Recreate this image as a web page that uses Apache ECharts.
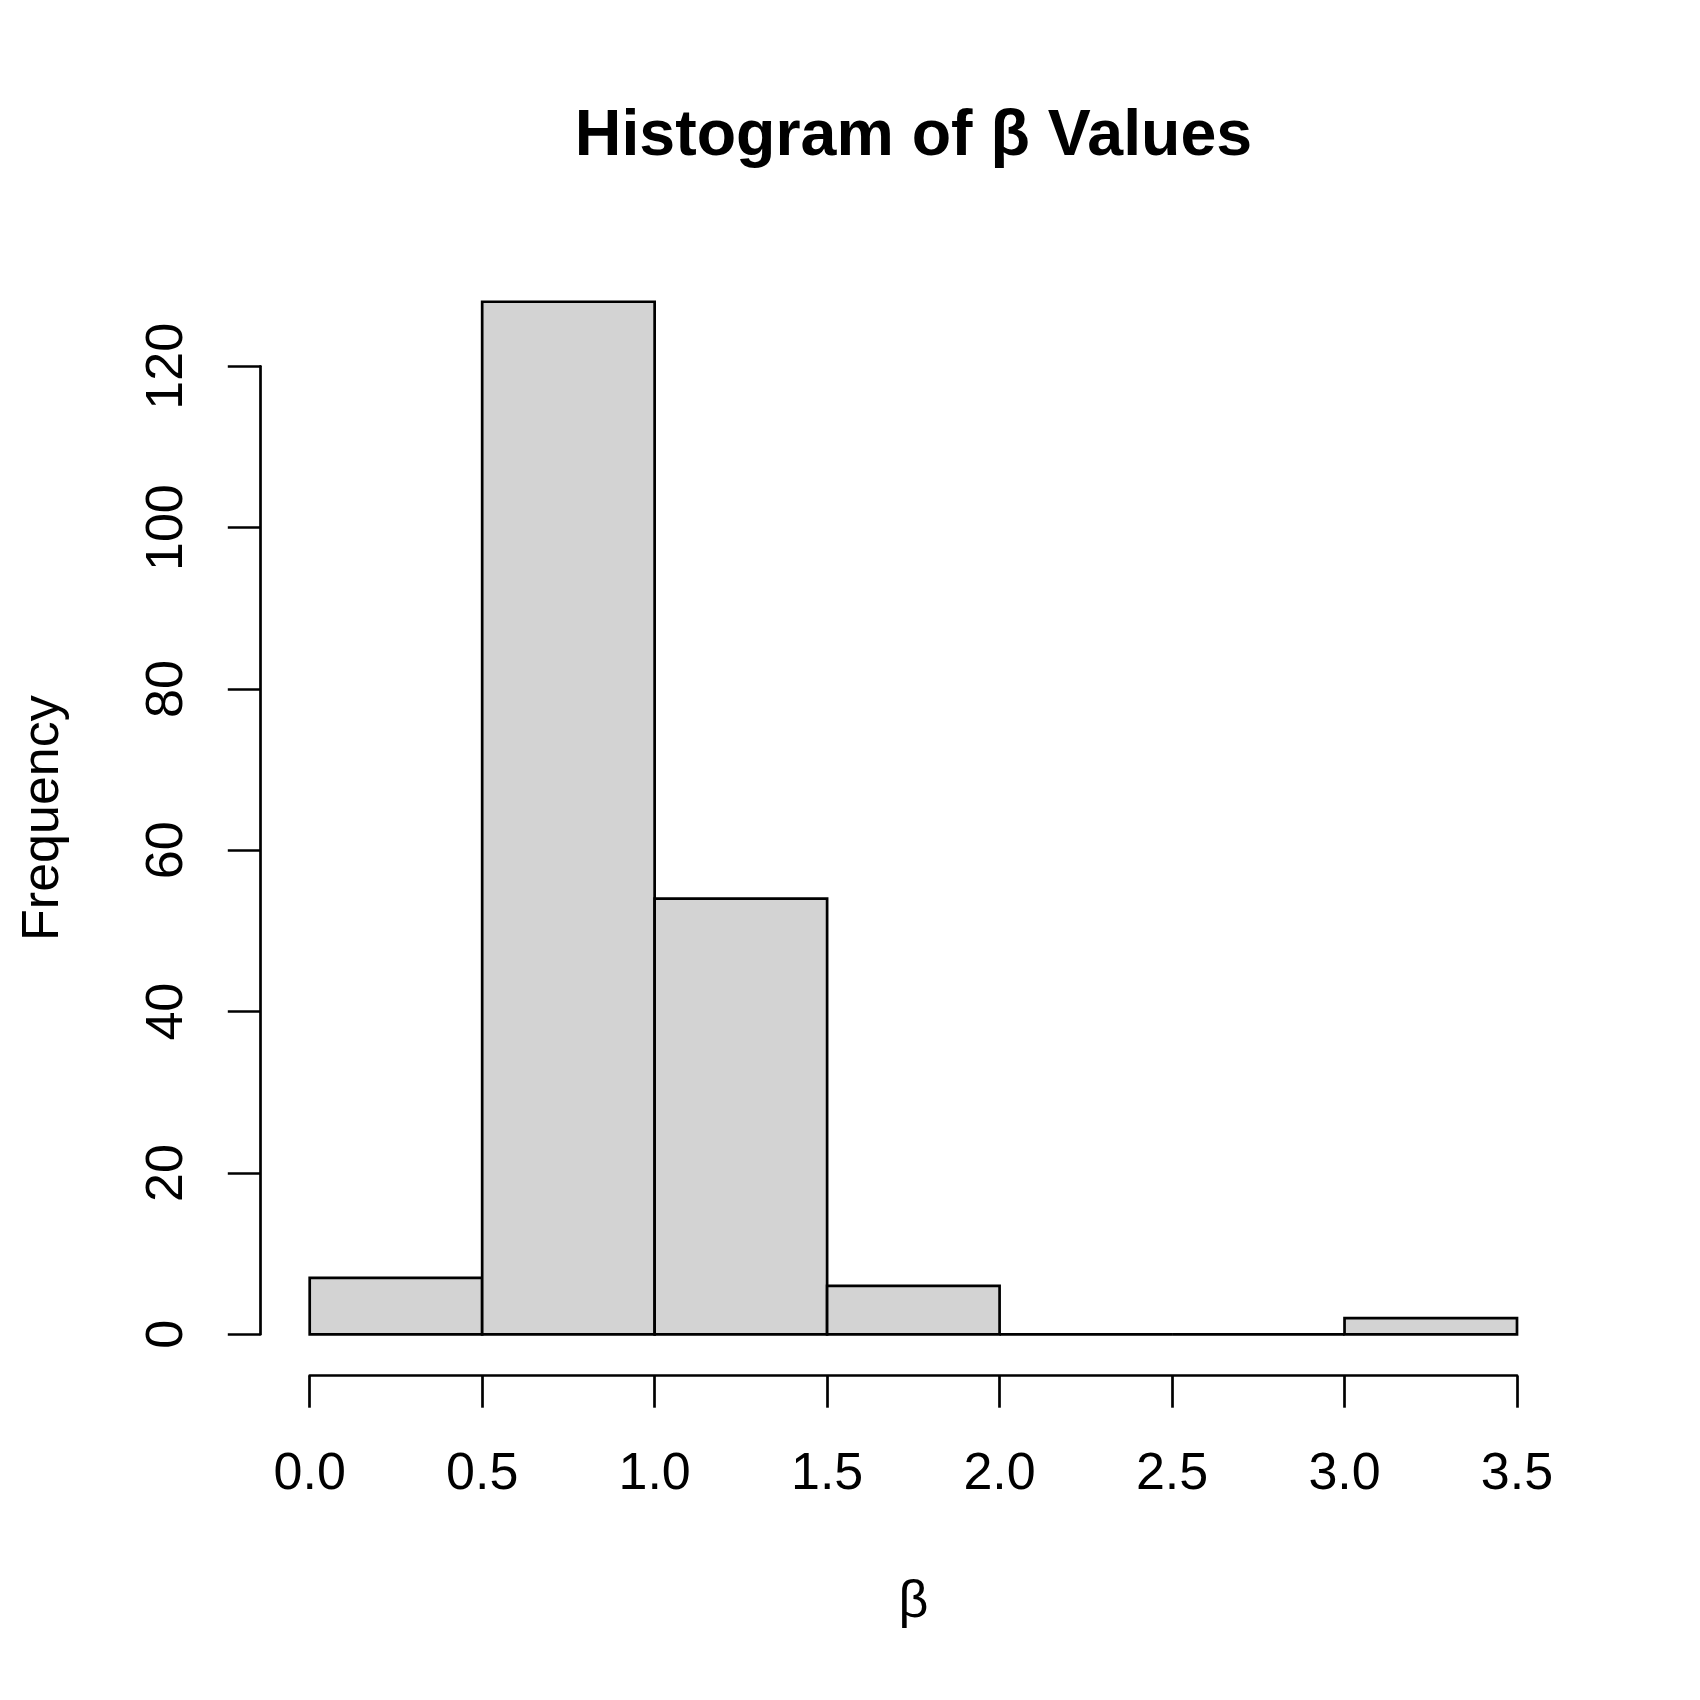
<!DOCTYPE html>
<html>
<head>
<meta charset="utf-8">
<script src="https://cdn.jsdelivr.net/npm/echarts@6/dist/echarts.min.js"></script>
<style>
  html, body { margin: 0; padding: 0; background: #ffffff; }
  #chart { width: 1700px; height: 1700px; }
</style>
</head>
<body>
<div id="chart"></div>
<script>
// ---- Data ----
const binEdges = [0.0, 0.5, 1.0, 1.5, 2.0, 2.5, 3.0, 3.5];
const counts = [7, 128, 54, 6, 0, 0, 2];
const xTickLabels = ['0.0', '0.5', '1.0', '1.5', '2.0', '2.5', '3.0', '3.5'];
const yTickLabels = ['0', '20', '40', '60', '80', '100', '120'];
const titleText = 'Histogram of β Values';
const xLabel = 'β';
const yLabel = 'Frequency';

// ---- Styling ----
const FONT = 'Liberation Sans, Arial, sans-serif';
const LW = 2.7;
const titleSize = 64.5;
const titleCenterX = 913.5;

const measure = document.createElement('canvas').getContext('2d');
measure.font = 'bold ' + titleSize + 'px Liberation Sans';
const titleW = measure.measureText(titleText).width;

const histData = counts.map((c, i) => [binEdges[i], binEdges[i + 1], c]);

const chart = echarts.init(document.getElementById('chart'), null, { renderer: 'canvas' });

const axisText = { color: '#000', fontFamily: FONT, fontSize: 52, lineHeight: 52 };

chart.setOption({
  backgroundColor: '#ffffff',
  animation: false,
  title: {
    text: titleText,
    left: titleCenterX - titleW / 2,
    top: 105,
    padding: 0,
    textStyle: { color: '#000', fontFamily: FONT, fontWeight: 'bold', fontSize: titleSize, lineHeight: titleSize }
  },
  grid: [
    { left: 309.7, right: 183, top: 366.3, bottom: 365.7, containLabel: false },
    { left: 260.3, right: 134.5, top: 260.4, bottom: 324.3, containLabel: false }
  ],
  xAxis: [
    {
      gridIndex: 0,
      type: 'value',
      min: 0,
      max: 3.5,
      interval: 0.5,
      offset: 41.4,
      axisLine: { show: true, onZero: false, lineStyle: { color: '#000', width: LW } },
      axisTick: { show: true, length: 32, lineStyle: { color: '#000', width: LW } },
      axisLabel: Object.assign({
        margin: 73,
        formatter: (v) => {
          const i = Math.round(v / 0.5);
          return xTickLabels[i] !== undefined ? xTickLabels[i] : '';
        }
      }, axisText),
      splitLine: { show: false },
      name: xLabel,
      nameLocation: 'middle',
      nameGap: 201,
      nameTextStyle: axisText
    },
    {
      gridIndex: 1,
      type: 'value',
      min: 0,
      max: 1,
      show: false
    }
  ],
  yAxis: [
    {
      gridIndex: 0,
      type: 'value',
      min: 0,
      max: 120,
      interval: 20,
      offset: 49.4,
      axisLine: { show: true, onZero: false, lineStyle: { color: '#000', width: LW } },
      axisTick: { show: true, length: 32.5, lineStyle: { color: '#000', width: LW } },
      axisLabel: Object.assign({
        margin: 67,
        rotate: 90,
        formatter: (v) => {
          const i = Math.round(v / 20);
          return yTickLabels[i] !== undefined ? yTickLabels[i] : '';
        }
      }, axisText),
      splitLine: { show: false }
    },
    {
      gridIndex: 1,
      type: 'value',
      min: 0,
      max: 1,
      axisLine: { show: false, onZero: false },
      axisTick: { show: false },
      axisLabel: { show: false },
      splitLine: { show: false },
      name: yLabel,
      nameLocation: 'middle',
      nameRotate: 90,
      nameGap: 191,
      nameTextStyle: axisText
    }
  ],
  series: [
    {
      type: 'custom',
      xAxisIndex: 0,
      yAxisIndex: 0,
      clip: false,
      data: histData,
      encode: { x: [0, 1], y: 2 },
      renderItem: function (params, api) {
        const p0 = api.coord([api.value(0), 0]);
        const p1 = api.coord([api.value(1), api.value(2)]);
        return {
          type: 'rect',
          shape: { x: p0[0], y: p1[1], width: p1[0] - p0[0], height: p0[1] - p1[1] },
          style: { fill: '#d3d3d3', stroke: '#000', lineWidth: LW }
        };
      }
    }
  ]
});
</script>
</body>
</html>
